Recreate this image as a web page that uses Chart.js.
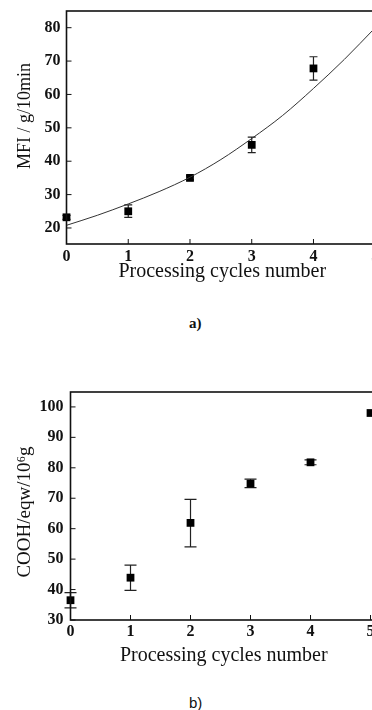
<!DOCTYPE html>
<html>
<head>
<meta charset="utf-8">
<script src="https://cdn.jsdelivr.net/npm/chart.js@4/dist/chart.umd.min.js"></script>
<style>
  html, body { margin: 0; padding: 0; background: #fff; }
  body { width: 372px; height: 710px; overflow: hidden; position: relative; }
  canvas { position: absolute; left: 0; }
  #chartA { top: 0; }
  #chartB { top: 380px; }
  .cap { position: absolute; font-size: 15px; color: #111; }
  #capA { left: 189px; top: 315px; font-family: "Liberation Serif", serif; font-weight: bold; }
  #capB { left: 189px; top: 694px; font-family: "Liberation Sans", sans-serif; }
</style>
</head>
<body>
<canvas id="chartA" width="378" height="300"></canvas>
<canvas id="chartB" width="377" height="300"></canvas>
<div class="cap" id="capA">a)</div>
<div class="cap" id="capB">b)</div>
<script>
// a) melt flow index vs processing cycles
const cyclesA = [0, 1, 2, 3, 4];
const mfi = [23.2, 25.0, 35.0, 44.9, 67.8];
const mfiLow = [22.6, 23.2, 34.4, 42.6, 64.3];
const mfiHigh = [23.8, 26.9, 35.6, 47.2, 71.3];
// fitted curve
const fitX = [0, 0.5, 1, 1.5, 2, 2.5, 3, 3.5, 4, 4.5, 5];
const fitY = [20.8, 23.8, 27.2, 30.9, 35.2, 40.5, 46.8, 53.7, 61.8, 70.5, 80.0];
const xTicks = [0, 1, 2, 3, 4, 5];
const yTicksA = [20, 30, 40, 50, 60, 70, 80];

// b) carboxyl end groups vs processing cycles
const cyclesB = [0, 1, 2, 3, 4, 5];
const cooh = [36.5, 43.9, 61.9, 74.8, 81.8, 98.0];
const coohLow = [34.0, 39.7, 54.0, 73.5, 81.0, 98.0];
const coohHigh = [39.0, 48.0, 69.6, 76.3, 82.6, 98.0];
const yTicksB = [30, 40, 50, 60, 70, 80, 90, 100];

const SERIF = '"Liberation Serif", "Times New Roman", serif';
Chart.defaults.font.family = SERIF;
Chart.defaults.color = '#111';

// error bars under the markers
const errorBars = {
  id: 'errorBars',
  beforeDatasetsDraw(chart, args, opts) {
    const { ctx, scales: { x, y } } = chart;
    ctx.save();
    ctx.strokeStyle = '#222';
    ctx.lineWidth = 1.2;
    opts.xs.forEach((v, i) => {
      const lo = opts.low[i], hi = opts.high[i];
      if (hi - lo < 0.01) return;
      const px = x.getPixelForValue(v);
      const y1 = y.getPixelForValue(lo), y2 = y.getPixelForValue(hi);
      ctx.beginPath();
      ctx.moveTo(px, y1); ctx.lineTo(px, y2);
      ctx.moveTo(px - opts.cap, y1); ctx.lineTo(px + opts.cap, y1);
      ctx.moveTo(px - opts.cap, y2); ctx.lineTo(px + opts.cap, y2);
      ctx.stroke();
    });
    ctx.restore();
  }
};

// box frame with inward tick marks, plus the rotated y title
const frame = {
  id: 'frame',
  afterDraw(chart, args, opts) {
    const { ctx, chartArea: a, scales: { x, y } } = chart;
    ctx.save();
    ctx.strokeStyle = '#111';
    ctx.lineWidth = 1.6;
    ctx.strokeRect(a.left, a.top, a.right - a.left, a.bottom - a.top);
    ctx.lineWidth = 1;
    ctx.beginPath();
    x.ticks.forEach(t => {
      const px = x.getPixelForValue(t.value);
      ctx.moveTo(px, a.bottom); ctx.lineTo(px, a.bottom - 5);
    });
    y.ticks.forEach(t => {
      const py = y.getPixelForValue(t.value);
      ctx.moveTo(a.left, py); ctx.lineTo(a.left + 5, py);
    });
    ctx.stroke();

    ctx.translate(opts.titleX, opts.titleY);
    ctx.rotate(-Math.PI / 2);
    ctx.fillStyle = '#111';
    ctx.font = opts.titleSize + 'px ' + SERIF;
    ctx.textAlign = 'center';
    ctx.textBaseline = 'middle';
    ctx.fillText(opts.title, 0, 0);
    ctx.restore();
  }
};

function makeOptions(cfg) {
  return {
    responsive: false,
    animation: false,
    events: [],
    layout: { autoPadding: false, padding: { top: cfg.top, left: 0, right: 0, bottom: 0 } },
    plugins: {
      legend: { display: false },
      tooltip: { enabled: false },
      errorBars: cfg.err,
      frame: cfg.frame
    },
    scales: {
      x: {
        type: 'linear',
        min: 0,
        max: cfg.xMax,
        afterBuildTicks: s => { s.ticks = xTicks.map(v => ({ value: v })); },
        afterFit: s => {
          s.height = cfg.xHeight;
          s.paddingLeft = 0;
          s.paddingRight = 0;
        },
        grid: { display: false, drawTicks: false },
        border: { display: false },
        ticks: { padding: cfg.xPad, font: { size: 16, weight: 'bold' }, color: '#111' },
        title: {
          display: true,
          text: 'Processing cycles number',
          font: { size: 20 },
          color: '#111',
          padding: { top: 0, bottom: cfg.xTitlePad }
        }
      },
      y: {
        min: cfg.yMin,
        max: cfg.yMax,
        afterBuildTicks: s => { s.ticks = cfg.yTicks.map(v => ({ value: v })); },
        afterFit: s => {
          s.width = cfg.yWidth;
          s.paddingTop = 0;
          s.paddingBottom = 0;
        },
        grid: { display: false, drawTicks: false },
        border: { display: false },
        ticks: { padding: cfg.yPad, font: { size: 16, weight: 'bold' }, color: '#111' }
      }
    }
  };
}

new Chart(document.getElementById('chartA'), {
  data: {
    datasets: [
      {
        type: 'line',
        data: fitX.map((v, i) => ({ x: v, y: fitY[i] })),
        borderColor: '#333',
        borderWidth: 1,
        pointRadius: 0,
        cubicInterpolationMode: 'monotone',
        fill: false
      },
      {
        type: 'scatter',
        data: cyclesA.map((v, i) => ({ x: v, y: mfi[i] })),
        pointStyle: 'rect',
        pointRadius: 5.5,
        backgroundColor: '#000',
        borderColor: '#000',
        borderWidth: 0,
        clip: false
      }
    ]
  },
  options: makeOptions({
    top: 11, xHeight: 56, xPad: 3, xTitlePad: 16, xMax: 5.045,
    yMin: 15.2, yMax: 85, yTicks: yTicksA, yWidth: 66.5, yPad: 6,
    err: { xs: cyclesA, low: mfiLow, high: mfiHigh, cap: 4 },
    frame: { title: 'MFI / g/10min', titleSize: 18, titleX: 25, titleY: 116 }
  }),
  plugins: [errorBars, frame]
});

new Chart(document.getElementById('chartB'), {
  data: {
    datasets: [
      {
        type: 'scatter',
        data: cyclesB.map((v, i) => ({ x: v, y: cooh[i] })),
        pointStyle: 'rect',
        pointRadius: 5.5,
        backgroundColor: '#000',
        borderColor: '#000',
        borderWidth: 0,
        clip: false
      }
    ]
  },
  options: makeOptions({
    top: 12, xHeight: 60, xPad: 2, xTitlePad: 12, xMax: 5.108,
    yMin: 30, yMax: 104.9, yTicks: yTicksB, yWidth: 70.5, yPad: 7,
    err: { xs: cyclesB, low: coohLow, high: coohHigh, cap: 6 },
    frame: { title: 'COOH/eqw/10\u2076g', titleSize: 19, titleX: 25, titleY: 132 }
  }),
  plugins: [errorBars, frame]
});
</script>
</body>
</html>
